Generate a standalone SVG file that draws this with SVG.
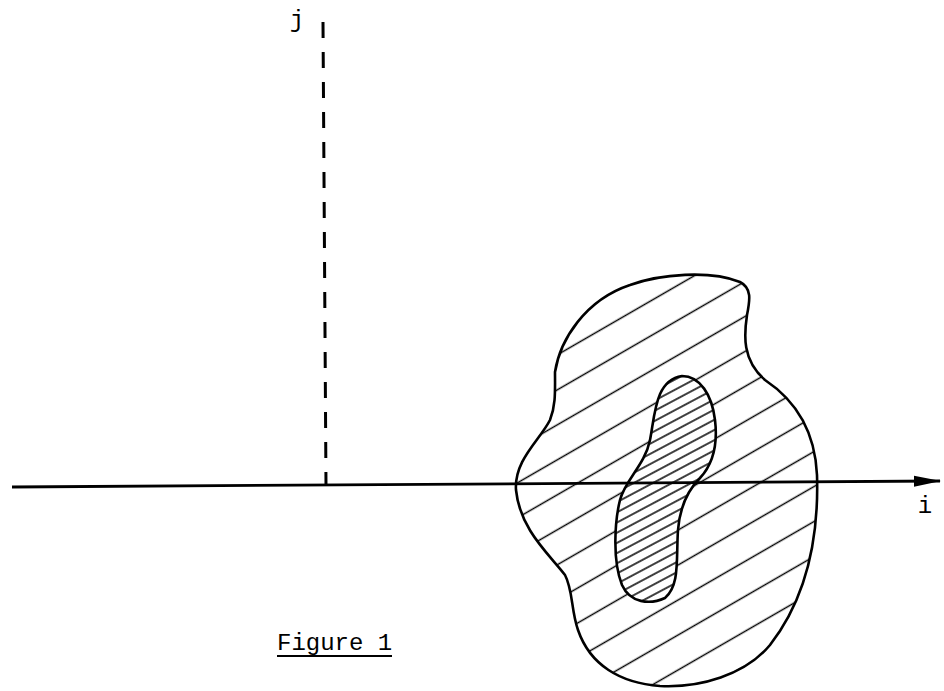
<svg xmlns="http://www.w3.org/2000/svg" width="944" height="691" viewBox="0 0 944 691">
  <style>
    .outline { stroke: #000; stroke-width: 2.6; stroke-linejoin: round; }
    .axis { stroke: #000; stroke-width: 2.8; fill: none; }
    .dash { stroke: #000; stroke-width: 3; fill: none; stroke-dasharray: 16 14; }
    .lbl { font-family: "Liberation Mono", "DejaVu Sans Mono", monospace; font-size: 24px; fill: #000; }
  </style>
  <defs>
    <pattern id="hatchOuter" patternUnits="userSpaceOnUse" width="40" height="30.3" patternTransform="rotate(-30)">
      <line x1="-5" y1="10.3" x2="45" y2="10.3" stroke="#000" stroke-width="1.6"/>
    </pattern>
    <pattern id="hatchInner" patternUnits="userSpaceOnUse" width="40" height="9" patternTransform="rotate(-28)">
      <line x1="-5" y1="4" x2="45" y2="4" stroke="#000" stroke-width="1.4"/>
    </pattern>
    <path id="outerShape" d="M 555,372 C 560,340 585,300 630,285 C 660,274 710,270 740,282 C 752,288 750,300 747,315 C 744,335 742,360 765,380 C 795,400 815,430 817,475 C 819,540 805,600 770,645 C 745,675 700,688 660,686 C 620,683 590,665 578,630 C 571,610 573,590 565,575 C 550,555 520,530 516,490 C 514,460 540,440 550,420 C 556,405 555,390 555,372 Z"/>
    <path id="innerShape" d="M 682,376 C 700,376 712,395 715,420 C 718,445 712,465 700,478 C 688,490 680,505 678,530 C 676,560 680,585 665,598 C 650,605 630,603 622,585 C 612,560 615,520 620,500 C 625,480 645,465 650,440 C 655,415 655,380 682,376 Z"/>
    <marker id="arrow" markerWidth="28" markerHeight="12" refX="26" refY="6" orient="auto" markerUnits="userSpaceOnUse">
      <polygon points="0,0.5 27,6 0,11.5" fill="#000"/>
    </marker>
  </defs>

  <g id="outer-region">
    <use href="#outerShape" fill="#fff"/>
    <use href="#outerShape" fill="url(#hatchOuter)" class="outline"/>
  </g>

  <g id="inner-region">
    <use href="#innerShape" fill="#fff"/>
    <use href="#innerShape" fill="url(#hatchInner)" class="outline"/>
  </g>

  <g id="connectors">
    <line id="i-axis" class="axis" x1="12" y1="487" x2="940" y2="481" marker-end="url(#arrow)"/>
    <line id="j-axis" class="dash" x1="323" y1="22" x2="326" y2="486"/>
  </g>

  <g id="labels">
    <text id="label-j" class="lbl" x="297" y="27" text-anchor="middle">j</text>
    <text id="label-i" class="lbl" x="925" y="513" text-anchor="middle">i</text>
    <g id="caption">
      <text class="lbl" x="277" y="650">Figure 1</text>
      <line x1="277" y1="656" x2="392" y2="656" stroke="#000" stroke-width="1.8"/>
    </g>
  </g>
</svg>
